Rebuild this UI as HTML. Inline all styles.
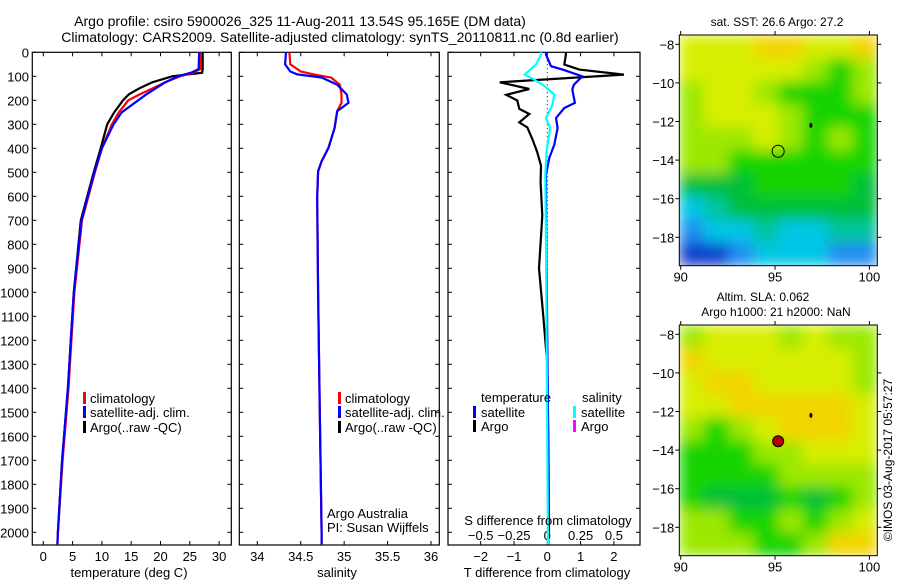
<!DOCTYPE html>
<html><head><meta charset="utf-8"><style>
html,body{margin:0;padding:0;background:#fff;}
svg{display:block;font-family:"Liberation Sans",sans-serif;}
text{fill:#000;}
</style></head><body>
<svg id="fig" width="900" height="580" viewBox="0 0 900 580" xmlns="http://www.w3.org/2000/svg">
<defs>
<filter id="blur" x="0" y="0" width="1" height="1"><feGaussianBlur stdDeviation="7" edgeMode="duplicate"/></filter>
<clipPath id="c1"><rect x="679.3" y="35" width="198" height="230.7"/></clipPath>
<clipPath id="c2"><rect x="679.3" y="325" width="198" height="230.7"/></clipPath>
</defs>
<text x="300" y="26" font-size="14" text-anchor="middle">Argo profile: csiro 5900026_325 11-Aug-2011 13.54S 95.165E (DM data)</text>
<text x="340" y="42" font-size="14" text-anchor="middle">Climatology: CARS2009. Satellite-adjusted climatology: synTS_20110811.nc (0.8d earlier)</text>
<g id="g1"></g>
<g id="g2"></g>
<g id="g3"></g>
<g id="m1"></g>
<g id="m2"></g>
<text x="0" y="0" font-size="12" text-anchor="middle" transform="translate(892,460) rotate(-90)">©IMOS 03-Aug-2017 05:57:27</text>
</svg>
<script>
// ---- data ----
const tDepth = [0,70,85,100,125,150,175,200,250,300,400,500,700,1000,1200,1400,1700,2000,2050];
const tClim  = [26.9,26.8,25.6,23.3,20.8,18.7,16.5,14.5,12.9,11.7,10.0,8.8,6.6,5.3,4.8,4.3,3.3,2.5,2.4];
const tSat   = [26.6,26.5,25.2,23.0,20.8,19.2,17.6,16.2,13.4,12.0,10.0,8.7,6.5,5.2,4.7,4.2,3.2,2.5,2.4];
const tArgo  = [27.2,27.2,27.1,22.0,18.6,16.4,14.6,13.6,12.1,10.9,9.8,8.6,6.4,5.2,4.7,4.2,3.2,2.5];
const sDepth = [0,50,80,92,105,135,176,211,245,315,398,454,496,607,1000,1500,2000,2050];
const sClim  = [34.37,34.38,34.50,34.65,34.85,34.95,34.97,34.97,34.92,34.89,34.82,34.74,34.70,34.69,34.70,34.72,34.74,34.74];
const sSat   = [34.33,34.32,34.38,34.46,34.74,34.92,35.03,35.05,34.92,34.89,34.82,34.74,34.70,34.69,34.70,34.72,34.74,34.74];
const dtSatDepth = [0,10,58,72,100,135,155,211,232,274,315,385,440,510,800,1200,1600,2050];
const dtSat      = [-0.04,-0.04,0.11,0.46,1.05,0.8,0.75,0.83,0.51,0.26,0.31,0.21,0.06,-0.04,-0.03,0.0,0.02,0.03];
const dtArgoDepth= [0,10,51,72,93,125,153,177,201,236,257,292,313,361,417,472,542,681,900,1100,1300,1600,2000];
const dtArgo     = [0.56,0.56,0.51,0.96,2.3,-1.43,-0.54,-1.23,-0.9,-0.84,-0.54,-0.84,-0.6,-0.45,-0.3,-0.19,-0.2,-0.15,-0.25,-0.12,0.0,0.03,0.05];
const dsSatDepth = [0,10,51,93,114,135,176,218,274,315,413,510,800,1200,1600,2050];
const dsSat      = [-0.047,-0.047,-0.084,-0.17,-0.097,-0.035,0.052,0.04,-0.01,0.022,-0.005,-0.015,-0.01,-0.005,0.0,0.005];
const depthTicks = [0,100,200,300,400,500,600,700,800,900,1000,1100,1200,1300,1400,1500,1600,1700,1800,1900,2000];
const tTicks = [0,5,10,15,20,25,30];
const sTicks = [34,34.5,35,35.5,36];
const sTickLabels = ['34','34.5','35','35.5','36'];
const dTTicks = [-2,-1,0,1,2];
const dSTicks = [-0.5,-0.25,0,0.25,0.5];
const dSTickLabels = ['-0.5','-0.25','0','0.25','0.5'];
const latTicks = [-8,-10,-12,-14,-16,-18];
const lonTicks = [90,95,100];
const sstRows = ["YYYOOYYO","YYYYYLGL","LYYLGGGL","LYYYLGGG","LLLYLGLG","LLGGGGGG","DDDGGGGD","CTDDDDDD","BCCTCCTT","NNBCCCBB"];
const slaRows = ["LYYYLYLL","OYYYYYYL","YOOYYYYL","YYOOOOOY","LGLYOOOY","GGGLLYYY","GGGGLLLL","GDDDGDGL","LLGGLGLY","LLLGGLOO"];
const palette = {Y:'#d8ee00',O:'#f2d400',L:'#9ce800',G:'#12d400',D:'#00c038',T:'#00c49c',C:'#00c6e6',B:'#1a8cf0',N:'#0a3ccc'};

// ---- axes ----
const Y = d => 52.3 + 0.24*d;
const X1 = t => 43.3 + 5.86*t;
const X2 = s => 257.3 + 86.85*(s-34);
const X3T = t => 547.3 + 33.3*t;
const X3S = s => 547.3 + 133.2*s;
const NS='http://www.w3.org/2000/svg';
function mk(parent, tag, attrs){const e=document.createElementNS(NS,tag);for(const k in attrs)e.setAttribute(k,attrs[k]);parent.appendChild(e);return e;}
function txt(parent,x,y,s,size,anchor){const e=mk(parent,'text',{x:x,y:y,'font-size':size,'text-anchor':anchor||'middle'});e.textContent=s;return e;}
function line(parent, xs, ds, fx, color, w){
  const pts = xs.map((v,i)=>fx(v).toFixed(1)+','+Y(ds[i]).toFixed(1)).join(' ');
  return mk(parent,'polyline',{points:pts,fill:'none',stroke:color,'stroke-width':w||2});
}
function box(g,x0,x1){
  const r=mk(g,'rect',{x:x0,y:52.3,width:x1-x0,height:545-52.3,fill:'none',stroke:'#000','stroke-width':1.2});
  
  
  depthTicks.forEach(d=>{mk(g,'line',{x1:x0,x2:x0+4,y1:Y(d),y2:Y(d),stroke:'#000'});mk(g,'line',{x1:x1-4,x2:x1,y1:Y(d),y2:Y(d),stroke:'#000'});});
}
function legendBar(g,x,y,color){mk(g,'rect',{x:x,y:y-6,width:3,height:12,fill:color});}

// Panel 1
const g1=document.getElementById('g1');
box(g1,32.3,231.3);
depthTicks.forEach(d=>{const t=txt(g1,29,Y(d)+5,String(d),13,'end');});
tTicks.forEach((t,i)=>{mk(g1,'line',{x1:X1(t),x2:X1(t),y1:545,y2:541,stroke:'#000'});mk(g1,'line',{x1:X1(t),x2:X1(t),y1:52.3,y2:56.3,stroke:'#000'});const e=txt(g1,X1(t),561,String(t),13);});
let e;
e=line(g1,tArgo,tDepth.slice(0,tArgo.length),X1,'#000',2.2);
e=line(g1,tClim,tDepth,X1,'#f00',2.2);
e=line(g1,tSat,tDepth,X1,'#00f',2.2);
e=txt(g1,129,577,'temperature (deg C)',13);
[['climatology','#f00',398],['satellite-adj. clim.','#00f',412],['Argo(..raw -QC)','#000',427]].forEach(([s,c,y])=>{legendBar(g1,83,y,c);const t=txt(g1,90,y+5,s,13,'start');});

// Panel 2
const g2=document.getElementById('g2');
box(g2,239.3,439.3);
sTicks.forEach((s,i)=>{mk(g2,'line',{x1:X2(s),x2:X2(s),y1:545,y2:541,stroke:'#000'});mk(g2,'line',{x1:X2(s),x2:X2(s),y1:52.3,y2:56.3,stroke:'#000'});const e=txt(g2,X2(s),561,sTickLabels[i],13);});
e=line(g2,sClim,sDepth,X2,'#f00',2.2);
e=line(g2,sSat,sDepth,X2,'#00f',2.2);
e=txt(g2,337,577,'salinity',13);
[['climatology','#f00',398],['satellite-adj. clim.','#00f',412],['Argo(..raw -QC)','#000',427]].forEach(([s,c,y])=>{legendBar(g2,338,y,c);const t=txt(g2,345,y+5,s,13,'start');});
e=txt(g2,327,518,'Argo Australia',13,'start');
e=txt(g2,327,532,'PI: Susan Wijffels',13,'start');

// Panel 3
const g3=document.getElementById('g3');
box(g3,448,640);
dTTicks.forEach(t=>{mk(g3,'line',{x1:X3T(t),x2:X3T(t),y1:545,y2:541,stroke:'#000'});mk(g3,'line',{x1:X3T(t),x2:X3T(t),y1:52.3,y2:56.3,stroke:'#000'});const e=txt(g3,X3T(t),561,String(t).replace('-','−'),13);});
dSTicks.forEach((s,i)=>{const e=txt(g3,X3S(s),540,dSTickLabels[i].replace('-','−'),13);});
mk(g3,'line',{x1:X3T(0),x2:X3T(0),y1:52.3,y2:545,stroke:'#000','stroke-dasharray':'1,3'});
e=line(g3,dtArgo,dtArgoDepth,X3T,'#000',2.2);
e=line(g3,dtSat,dtSatDepth,X3T,'#00f',2.2);
e=line(g3,dsSat,dsSatDepth,X3S,'#0ff',2.2);
e=txt(g3,548,525,'S difference from climatology',13);
e=txt(g3,547,577,'T difference from climatology',13);
e=txt(g3,481,402,'temperature',13,'start');
e=txt(g3,582,402,'salinity',13,'start');
[[473,'satellite','#00f',412],[473,'Argo','#000',426],[573,'satellite','#0ff',412],[573,'Argo','#f0f',426]].forEach(([x,s,c,y])=>{legendBar(g3,x,y,c);const t=txt(g3,x+8,y+5,s,13,'start');});

// Maps
function drawMap(id, top, rows, filled, titles, clip){
  const g=document.getElementById(id);
  const x0=679.3,x1=877.3,y1=top+230.7;
  const LX=lon=>680.7+18.87*(lon-90);
  const LY=lat=>top+9.3+19.3*(-8-lat);
  const nr=rows.length,nc=rows[0].length,cw=(x1-x0)/nc,ch=(y1-top)/nr;
  const cg=mk(g,'g',{'clip-path':'url(#'+clip+')'});
  const fg=mk(cg,'g',{filter:'url(#blur)'});
  rows.forEach((r,i)=>{[...r].forEach((k,j)=>{mk(fg,'rect',{x:(x0+j*cw).toFixed(1),y:(top+i*ch).toFixed(1),width:(cw+0.6).toFixed(1),height:(ch+0.6).toFixed(1),fill:palette[k]});});});
  const fr=mk(g,'rect',{x:x0,y:top,width:x1-x0,height:y1-top,fill:'none',stroke:'#000'});
  
  
  latTicks.forEach(l=>{mk(g,'line',{x1:x0-4,x2:x0,y1:LY(l),y2:LY(l),stroke:'#000'});mk(g,'line',{x1:x1,x2:x1+4,y1:LY(l),y2:LY(l),stroke:'#000'});const t=txt(g,x0-5,LY(l)+5,String(l).replace('-','−'),13,'end');});
  lonTicks.forEach(l=>{mk(g,'line',{x1:LX(l),x2:LX(l),y1:y1,y2:y1+4,stroke:'#000'});mk(g,'line',{x1:LX(l),x2:LX(l),y1:top-4,y2:top,stroke:'#000'});const t=txt(g,LX(l),y1+16,String(l),13);});
  mk(g,'ellipse',{cx:LX(96.9),cy:LY(-12.2),rx:1.5,ry:2.5,fill:'#000'});
  const c=mk(g,'circle',{cx:LX(95.165),cy:LY(-13.54),r:filled?5.5:6,fill:filled?'#b00000':'none',stroke:'#000','stroke-width':1});
  
  
  titles.forEach(([s,x,y])=>{const t=txt(g,x,y,s,12);});
}
drawMap('m1',35,sstRows,false,[['sat. SST: 26.6  Argo: 27.2',777,26]],'c1');
drawMap('m2',325,slaRows,true,[['Altim. SLA: 0.062',763,301],['Argo h1000: 21 h2000: NaN',776,316]],'c2');
</script>
</body></html>
